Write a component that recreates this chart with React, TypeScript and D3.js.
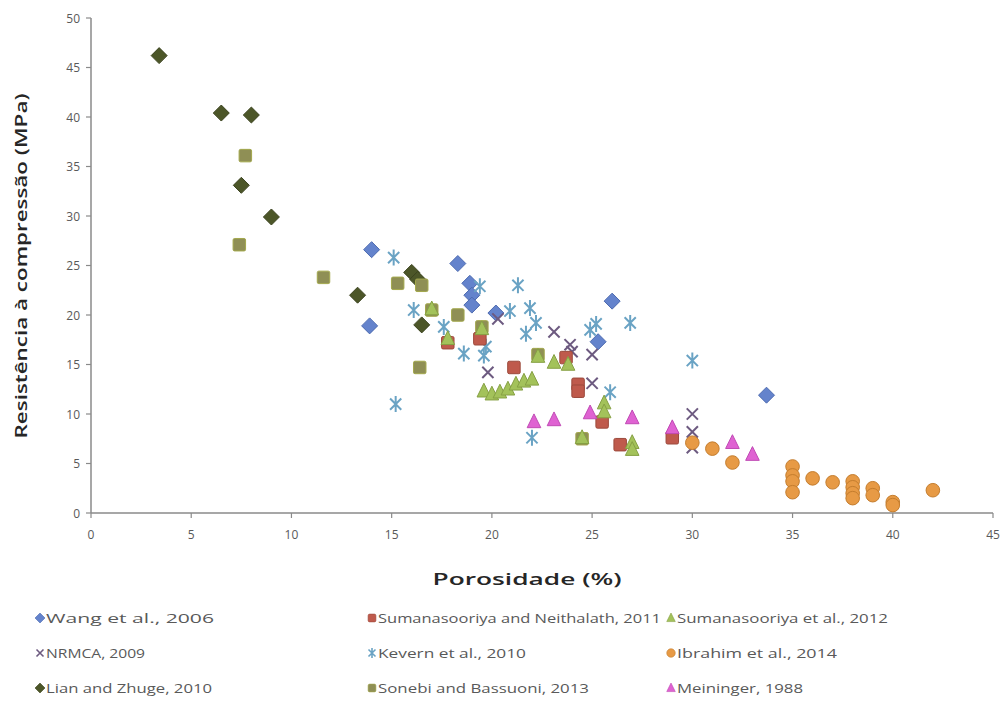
import React from "react";
import * as d3 from "d3";

const xTicks = [0, 5, 10, 15, 20, 25, 30, 35, 40, 45];
const yTicks = [0, 5, 10, 15, 20, 25, 30, 35, 40, 45, 50];

const wang: [number, number][] = [
  [14.0, 26.6], [18.3, 25.2], [18.9, 23.2], [19.0, 22.0], [19.0, 21.0], [13.9, 18.9],
  [20.2, 20.2], [26.0, 21.4], [25.3, 17.3], [33.7, 11.9],
];
const sum2011: [number, number][] = [
  [17.8, 17.2], [19.4, 17.6], [21.1, 14.7], [23.7, 15.7], [24.3, 13.0], [24.3, 12.3],
  [25.5, 9.2], [26.4, 6.9], [29.0, 7.6],
];
const sum2012: [number, number][] = [
  [17.0, 20.6], [19.5, 18.6], [17.8, 17.6], [19.6, 12.3], [20.0, 12.0], [20.4, 12.2],
  [20.8, 12.5], [21.2, 13.0], [21.6, 13.3], [22.0, 13.5], [22.3, 15.8], [23.1, 15.2],
  [23.8, 15.0], [25.6, 11.1], [25.6, 10.2], [24.5, 7.6], [27.0, 7.1], [27.0, 6.4],
];
const nrmca: [number, number][] = [
  [19.8, 14.2], [20.3, 19.6], [23.1, 18.3], [23.9, 17.0], [24.0, 16.3], [25.0, 16.0],
  [25.0, 13.1], [30.0, 10.0], [30.0, 8.2], [30.0, 6.6],
];
const kevern: [number, number][] = [
  [15.1, 25.8], [19.4, 22.9], [16.1, 20.5], [17.6, 18.8], [18.6, 16.1], [19.6, 15.9],
  [15.2, 11.0], [21.3, 23.0], [20.9, 20.4], [21.9, 20.7], [22.2, 19.2], [21.7, 18.1],
  [24.9, 18.5], [25.2, 19.1], [26.9, 19.2], [25.9, 12.2], [22.0, 7.6], [30.0, 15.4],
  [19.7, 16.8],
];
const ibrahim: [number, number][] = [
  [30.0, 7.1], [31.0, 6.5], [32.0, 5.1], [35.0, 4.7], [35.0, 3.8], [35.0, 3.2],
  [35.0, 2.1], [36.0, 3.5], [37.0, 3.1], [38.0, 3.2], [38.0, 2.6], [38.0, 2.0],
  [38.0, 1.5], [39.0, 2.5], [39.0, 1.8], [40.0, 1.1], [40.0, 0.8], [42.0, 2.3],
];
const lian: [number, number][] = [
  [3.4, 46.2], [6.5, 40.4], [8.0, 40.2], [7.5, 33.1], [9.0, 29.9], [13.3, 22.0],
  [16.0, 24.3], [16.5, 19.0], [16.3, 23.6],
];
const sonebi: [number, number][] = [
  [7.4, 27.1], [7.7, 36.1], [11.6, 23.8], [15.3, 23.2], [16.5, 23.0], [17.0, 20.5],
  [18.3, 20.0], [19.5, 18.8], [16.4, 14.7], [22.3, 16.0], [24.5, 7.5],
];
const meininger: [number, number][] = [
  [22.1, 9.2], [23.1, 9.4], [24.9, 10.1], [27.0, 9.6], [29.0, 8.6], [32.0, 7.1], [33.0, 5.9],
];

type Shape = "diamond" | "square" | "triangle" | "x" | "star" | "circle";
interface Series {
  name: string;
  data: [number, number][];
  shape: Shape;
  fill: string;
  stroke: string;
}

const series: Series[] = [
  { name: "Wang et al., 2006", data: wang, shape: "diamond", fill: "#6483cc", stroke: "#4d6bb0" },
  { name: "Sumanasooriya and Neithalath, 2011", data: sum2011, shape: "square", fill: "#bf5a4c", stroke: "#9c4a3c" },
  { name: "Sumanasooriya et al., 2012", data: sum2012, shape: "triangle", fill: "#a3c25a", stroke: "#86a044" },
  { name: "NRMCA, 2009", data: nrmca, shape: "x", fill: "none", stroke: "#6d5a80" },
  { name: "Kevern et al., 2010", data: kevern, shape: "star", fill: "none", stroke: "#6aa3c4" },
  { name: "Ibrahim et al., 2014", data: ibrahim, shape: "circle", fill: "#e79a45", stroke: "#c47d2e" },
  { name: "Lian and Zhuge, 2010", data: lian, shape: "diamond", fill: "#4c5628", stroke: "#3c4420" },
  { name: "Sonebi and Bassuoni, 2013", data: sonebi, shape: "square", fill: "#8f8f55", stroke: "#a3a84c" },
  { name: "Meininger, 1988", data: meininger, shape: "triangle", fill: "#df62d2", stroke: "#c04ab4" },
];
const legendWidths = [168, 283, 211, 99, 148, 160, 166, 211, 126];

const drawOrder = [0, 3, 4, 6, 7, 1, 2, 5, 8];

function Marker({ shape, cx, cy, r, fill, stroke, sw }: { shape: Shape; cx: number; cy: number; r: number; fill: string; stroke: string; sw: number }) {
  switch (shape) {
    case "diamond":
      return <path d={`M${cx},${cy - r}L${cx + r},${cy}L${cx},${cy + r}L${cx - r},${cy}Z`} fill={fill} stroke={stroke} strokeWidth={sw} />;
    case "square":
      return <rect x={cx - r * 0.78} y={cy - r * 0.78} width={r * 1.56} height={r * 1.56} rx={1.5} fill={fill} stroke={stroke} strokeWidth={sw} />;
    case "triangle":
      return <path d={`M${cx},${cy - r}L${cx + r * 0.85},${cy + r * 0.72}L${cx - r * 0.85},${cy + r * 0.72}Z`} fill={fill} stroke={stroke} strokeWidth={sw} />;
    case "circle":
      return <circle cx={cx} cy={cy} r={r * 0.85} fill={fill} stroke={stroke} strokeWidth={sw} />;
    case "x": {
      const a = r * 0.7;
      return <path d={`M${cx - a},${cy - a}L${cx + a},${cy + a}M${cx + a},${cy - a}L${cx - a},${cy + a}`} fill="none" stroke={stroke} strokeWidth={sw + 1} />;
    }
    case "star": {
      const a = r * 0.7;
      return <path d={`M${cx - a},${cy - a}L${cx + a},${cy + a}M${cx + a},${cy - a}L${cx - a},${cy + a}M${cx},${cy - r}L${cx},${cy + r}`} fill="none" stroke={stroke} strokeWidth={sw + 1} />;
    }
  }
  return null;
}

export default function App() {
  const W = 1007, H = 708;
  const x = d3.scaleLinear().domain([0, 45]).range([91, 993]);
  const y = d3.scaleLinear().domain([0, 50]).range([513, 18]);
  const font = "'Open Sans', Lato, sans-serif";
  const axisColor = "#8a8a8a";
  const legendCols = [40, 372, 671];
  const legendRows = [622, 657, 692];

  return (
    <svg width={W} height={H} style={{ position: "absolute", left: 0, top: 0, background: "#fff" }}>
      <rect width={W} height={H} fill="#fff" />
      <line x1={x(0)} x2={x(0)} y1={y(50)} y2={y(0)} stroke={axisColor} strokeWidth={1.5} />
      <line x1={x(0)} x2={x(45)} y1={y(0)} y2={y(0)} stroke={axisColor} strokeWidth={1.5} />
      {yTicks.map((t) => (
        <g key={"y" + t}>
          <line x1={x(0) - 5} x2={x(0)} y1={y(t)} y2={y(t)} stroke={axisColor} strokeWidth={1.2} />
          <text x={x(0) - 11} y={y(t) + 4.5} textAnchor="end" fontSize={12} fill="#595959" fontFamily={font}>{t}</text>
        </g>
      ))}
      {xTicks.map((t) => (
        <g key={"x" + t}>
          <line x1={x(t)} x2={x(t)} y1={y(0)} y2={y(0) + 5} stroke={axisColor} strokeWidth={1.2} />
          <text x={x(t)} y={y(0) + 26} textAnchor="middle" fontSize={12} fill="#595959" fontFamily={font}>{t}</text>
        </g>
      ))}
      <text x={527} y={585} textAnchor="middle" fontSize={17} fontWeight={600} fill="#262626" fontFamily={font} textLength={189} lengthAdjust="spacingAndGlyphs">Porosidade (%)</text>
      <text transform={`translate(27,266) rotate(-90)`} textAnchor="middle" fontSize={16.5} fontWeight={600} fill="#262626" fontFamily={font} textLength={345} lengthAdjust="spacingAndGlyphs">Resistência à compressão (MPa)</text>

      {drawOrder.map((si) => {
        const s = series[si];
        return (
          <g key={s.name}>
            {s.data.map((d, i) => (
              <Marker key={i} shape={s.shape} cx={x(d[0])} cy={y(d[1])} r={8} fill={s.fill} stroke={s.stroke} sw={1} />
            ))}
          </g>
        );
      })}

      {series.map((s, i) => {
        const cx = legendCols[i % 3];
        const cy = legendRows[Math.floor(i / 3)];
        return (
          <g key={"lg" + i}>
            <Marker shape={s.shape} cx={cx} cy={cy - 4} r={5} fill={s.fill} stroke={s.stroke} sw={0.6} />
            <text x={cx + 6} y={cy + 1} fontSize={13.5} fill="#595959" fontFamily={font} textLength={legendWidths[i]} lengthAdjust="spacingAndGlyphs">{s.name}</text>
          </g>
        );
      })}
    </svg>
  );
}
